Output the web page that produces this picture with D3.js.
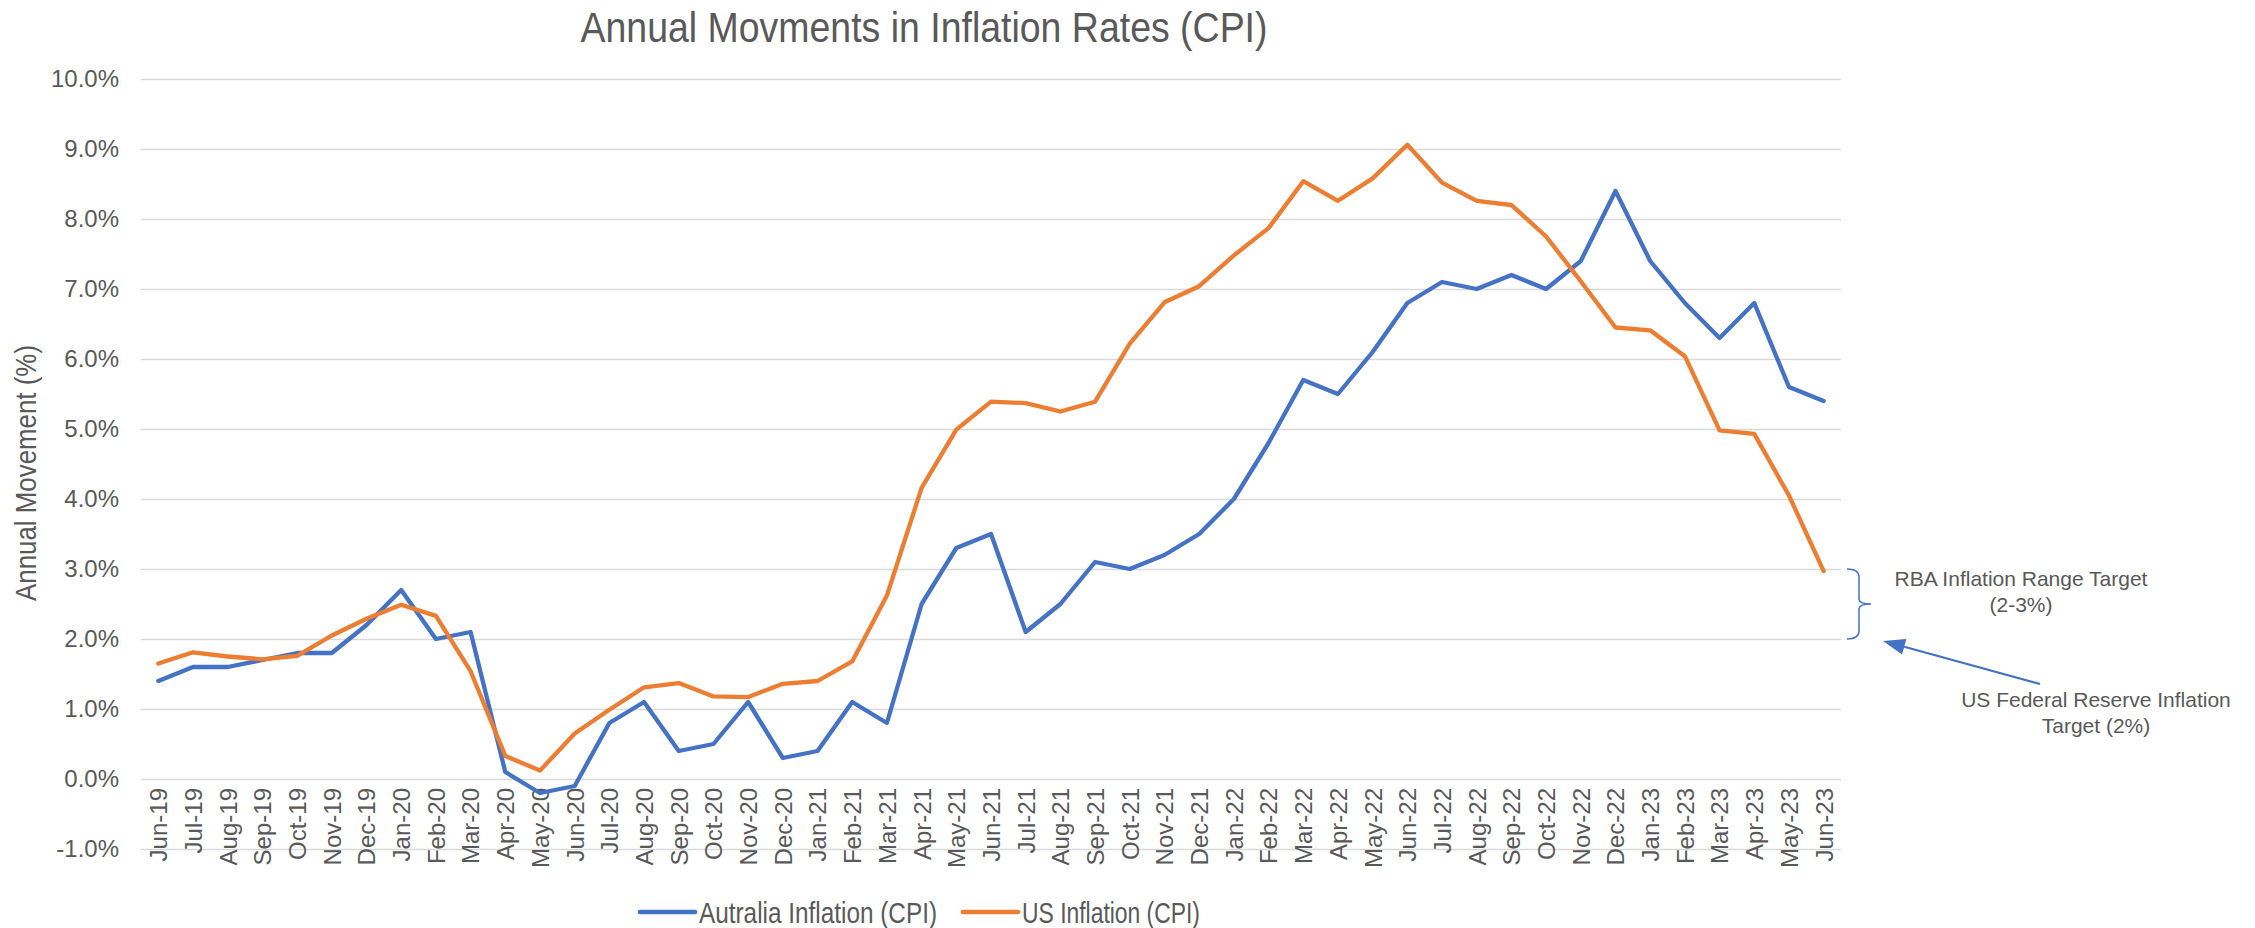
<!DOCTYPE html>
<html>
<head>
<meta charset="UTF-8">
<title>Annual Movments in Inflation Rates (CPI)</title>
<style>
body { margin: 0; background: #fff; }
svg { display: block; }
.reg { font-family: "Liberation Sans", Arial, sans-serif; }
</style>
</head>
<body>
<svg id="chart" width="2255" height="928"></svg>

<script src="https://cdn.jsdelivr.net/npm/d3@7"></script>
<script>
// month labels along the bottom
const months = ["Jun-19","Jul-19","Aug-19","Sep-19","Oct-19","Nov-19","Dec-19",
  "Jan-20","Feb-20","Mar-20","Apr-20","May-20","Jun-20","Jul-20","Aug-20","Sep-20","Oct-20","Nov-20","Dec-20",
  "Jan-21","Feb-21","Mar-21","Apr-21","May-21","Jun-21","Jul-21","Aug-21","Sep-21","Oct-21","Nov-21","Dec-21",
  "Jan-22","Feb-22","Mar-22","Apr-22","May-22","Jun-22","Jul-22","Aug-22","Sep-22","Oct-22","Nov-22","Dec-22",
  "Jan-23","Feb-23","Mar-23","Apr-23","May-23","Jun-23"];

const ausCpi = [1.4,1.6,1.6,1.7,1.8,1.8,2.2,
  2.7,2.0,2.1,0.1,-0.2,-0.1,0.8,1.1,0.4,0.5,1.1,0.3,
  0.4,1.1,0.8,2.5,3.3,3.5,2.1,2.5,3.1,3.0,3.2,3.5,
  4.0,4.8,5.7,5.5,6.1,6.8,7.1,7.0,7.2,7.0,7.4,8.4,
  7.4,6.8,6.3,6.8,5.6,5.4];

const usCpi = [1.65,1.81,1.75,1.71,1.76,2.05,2.29,
  2.49,2.33,1.54,0.33,0.12,0.65,0.99,1.31,1.37,1.18,1.17,1.36,
  1.40,1.68,2.62,4.16,4.99,5.39,5.37,5.25,5.39,6.22,6.81,7.04,
  7.48,7.87,8.54,8.26,8.58,9.06,8.52,8.26,8.20,7.75,7.11,6.45,
  6.41,6.04,4.98,4.93,4.05,2.97];

const yTicks = [-1,0,1,2,3,4,5,6,7,8,9,10];
const seriesNames = ["Autralia Inflation (CPI)", "US Inflation (CPI)"];
const seriesColors = ["#4472C4", "#ED7D31"];

const grey = "#595959";
let svg = d3.select("#chart");

let plotLeft = 141, plotRight = 1841, plotTop = 79, plotBottom = 849;

let x = d3.scalePoint().domain(months).range([plotLeft, plotRight]).padding(0.5);
let y = d3.scaleLinear().domain([-1, 10]).range([plotBottom, plotTop]);

// title (condensed look via textLength)
svg.append("text")
  .attr("class", "reg")
  .attr("x", 924).attr("y", 42)
  .attr("text-anchor", "middle")
  .attr("font-size", 42)
  .attr("textLength", 687).attr("lengthAdjust", "spacingAndGlyphs")
  .attr("fill", grey)
  .text("Annual Movments in Inflation Rates (CPI)");

// y axis + gridlines
svg.append("g")
  .attr("class", "reg")
  .attr("transform", "translate(" + plotLeft + ",0)")
  .call(d3.axisLeft(y).tickValues(yTicks).tickSize(-(plotRight - plotLeft)).tickPadding(22)
    .tickFormat(d => d.toFixed(1) + "%"))
  .call(g => g.select(".domain").remove())
  .call(g => g.selectAll(".tick line").attr("stroke", "#d9d9d9").attr("stroke-width", 1.5))
  .call(g => g.selectAll(".tick text").attr("fill", grey).attr("font-size", 24).attr("font-family", null));

// y axis title
svg.append("text")
  .attr("class", "reg")
  .attr("transform", "translate(36,473) rotate(-90)")
  .attr("text-anchor", "middle")
  .attr("font-size", 29)
  .attr("textLength", 256).attr("lengthAdjust", "spacingAndGlyphs")
  .attr("fill", grey)
  .text("Annual Movement (%)");

// x axis sits on 0%
svg.append("g")
  .attr("class", "reg")
  .attr("transform", "translate(0," + y(0) + ")")
  .call(d3.axisBottom(x).tickSize(0))
  .call(g => g.select(".domain").remove())
  .call(g => g.selectAll(".tick text")
    .attr("fill", grey).attr("font-size", 24).attr("font-family", null)
    .attr("transform", "rotate(-90)")
    .attr("x", -9).attr("y", 0).attr("dy", "0.35em")
    .attr("text-anchor", "end"));

// lines
let line = d3.line()
  .x((d, i) => x(months[i]))
  .y(d => y(d));

[ausCpi, usCpi].forEach((vals, k) => {
  svg.append("path")
    .datum(vals)
    .attr("fill", "none")
    .attr("stroke", seriesColors[k])
    .attr("stroke-width", 4.3)
    .attr("stroke-linejoin", "round")
    .attr("stroke-linecap", "round")
    .attr("d", line);
});

// legend
let legendX = [640, 963];
let legendLen = [238, 178];
let legend = svg.append("g").attr("class", "reg");
seriesNames.forEach((name, k) => {
  legend.append("line")
    .attr("x1", legendX[k]).attr("x2", legendX[k] + 55)
    .attr("y1", 912).attr("y2", 912)
    .attr("stroke", seriesColors[k]).attr("stroke-width", 4.6)
    .attr("stroke-linecap", "round");
  legend.append("text")
    .attr("x", legendX[k] + 59).attr("y", 923)
    .attr("font-size", 30)
    .attr("textLength", legendLen[k]).attr("lengthAdjust", "spacingAndGlyphs")
    .attr("fill", grey)
    .text(name);
});

// RBA range brace (2-3%)
let bTop = y(3), bBot = y(2), bMid = (bTop + bBot) / 2;
svg.append("path")
  .attr("fill", "none")
  .attr("stroke", "#4472C4")
  .attr("stroke-width", 1.5)
  .attr("d", "M1847," + bTop + " Q1859," + bTop + " 1859," + (bTop + 8) +
    " L1859," + (bMid - 5) + " Q1859," + bMid + " 1871," + bMid +
    " Q1859," + bMid + " 1859," + (bMid + 5) +
    " L1859," + (bBot - 8) + " Q1859," + bBot + " 1847," + bBot);

svg.append("text")
  .attr("class", "reg")
  .attr("x", 2021).attr("y", 586)
  .attr("text-anchor", "middle")
  .attr("font-size", 21).attr("fill", grey)
  .selectAll("tspan")
  .data(["RBA Inflation Range Target", "(2-3%)"])
  .join("tspan")
  .attr("x", 2021)
  .attr("dy", (d, i) => i ? 26 : 0)
  .text(d => d);

// US Fed target arrow (2%)
let tipX = 1883, tipY = y(2) + 2;
let tailX = 2040, tailY = 684;
let ang = Math.atan2(tailY - tipY, tailX - tipX);
let headLen = 22, headW = 8;
let bx = tipX + headLen * Math.cos(ang), by = tipY + headLen * Math.sin(ang);
svg.append("line")
  .attr("x1", tailX).attr("y1", tailY)
  .attr("x2", bx).attr("y2", by)
  .attr("stroke", "#4472C4").attr("stroke-width", 2.2);
svg.append("path")
  .attr("fill", "#4472C4")
  .attr("d", "M" + tipX + "," + tipY +
    " L" + (bx - headW * Math.sin(ang)) + "," + (by + headW * Math.cos(ang)) +
    " L" + (bx + headW * Math.sin(ang)) + "," + (by - headW * Math.cos(ang)) + "Z");

svg.append("text")
  .attr("class", "reg")
  .attr("x", 2096).attr("y", 707)
  .attr("text-anchor", "middle")
  .attr("font-size", 21).attr("fill", grey)
  .selectAll("tspan")
  .data(["US Federal Reserve Inflation", "Target (2%)"])
  .join("tspan")
  .attr("x", 2096)
  .attr("dy", (d, i) => i ? 26 : 0)
  .text(d => d);
</script>
</body>
</html>
